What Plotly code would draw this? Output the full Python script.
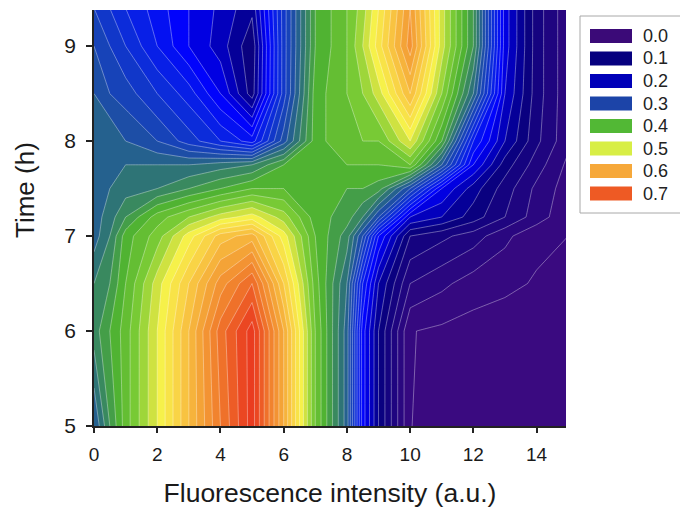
import plotly.graph_objects as go

intensity = [0, 0.5, 1, 2, 3, 4, 5, 6, 7, 8, 8.5, 9, 10, 11, 12, 13, 14, 15]
time_h = [5, 6, 6.5, 7, 7.2, 7.5, 7.75, 8, 8.5, 9, 9.4]
t500 = [.32,.38,.43,.50,.58,.66,.73,.60,.44,.33,.19,.12,.021,.005,0,0,0,0]
t600 = [.37,.40,.43,.50,.58,.67,.73,.60,.44,.33,.19,.12,.021,.016,.012,.008,.004,0]
t650 = [.36,.38,.42,.49,.56,.63,.68,.56,.43,.34,.22,.14,.06,.045,.03,.025,.018,.01]
t700 = [.33,.36,.41,.45,.51,.57,.59,.51,.42,.37,.30,.20,.10,.085,.07,.045,.025,.02]
t720 = [.33,.35,.38,.43,.46,.49,.51,.47,.41,.39,.36,.30,.16,.14,.11,.08,.05,.025]
t750 = [.34,.34,.35,.36,.38,.40,.42,.42,.42,.40,.40,.39,.30,.18,.13,.09,.055,.03]
t775 = [.34,.34,.34,.34,.34,.35,.36,.40,.42,.42,.42,.42,.44,.32,.18,.11,.07,.035]
t800 = [.34,.34,.32,.30,.27,.24,.21,.31,.41,.44,.44,.44,.50,.40,.22,.14,.085,.045]
t850 = [.32,.30,.29,.26,.23,.18,.11,.27,.41,.44,.46,.49,.58,.46,.34,.16,.09,.045]
t900 = [.30,.28,.26,.22,.18,.15,.105,.27,.40,.44,.48,.53,.63,.49,.38,.17,.09,.045]
t940 = [.28,.26,.24,.21,.18,.155,.125,.27,.40,.44,.47,.52,.62,.49,.38,.17,.09,.045]
z_rows = [t500, t600, t650, t700, t720, t750, t775, t800, t850, t900, t940]

legend_labels = ["0.0", "0.1", "0.2", "0.3", "0.4", "0.5", "0.6", "0.7"]
legend_colors = ["#3b0a78", "#06007f", "#0000b8", "#1c44a8",
                 "#52b835", "#d8ee45", "#f6a83a", "#ee5a24"]

ZMAX = 0.72
stops = [(0, "#3a0a80"), (.1, "#060080"), (.17, "#0000ff"), (.23, "#0a28e0"),
         (.3, "#1d4fa5"), (.34, "#2e7575"), (.4, "#4fb232"), (.45, "#7fce35"),
         (.48, "#c8e040"), (.505, "#f8f24a"), (.55, "#f9d045"), (.6, "#f5a838"),
         (.66, "#f07a2c"), (.72, "#ea3c20")]
colorscale = [[v / ZMAX, c] for v, c in stops]

fig = go.Figure(go.Contour(
    x=intensity, y=time_h, z=z_rows,
    zmin=0, zmax=ZMAX, colorscale=colorscale, showscale=False,
    autocontour=False,
    contours=dict(start=0.02, end=0.72, size=0.02, coloring="fill", showlines=True),
    line=dict(color="rgba(255,255,255,0.45)", width=0.8, smoothing=0),
    hoverinfo="skip",
))

W, H = 680, 508
L, R, T, B = 94, 566, 10, 426
font = "Liberation Sans, Arial, sans-serif"

def px(v):
    return (v - L) / (R - L)

def py(v):
    return (B - v) / (B - T)

shapes = [dict(type="rect", xref="paper", yref="paper",
               x0=px(580), x1=px(700), y0=py(16), y1=py(213),
               line=dict(color="#a8a8a8", width=1), fillcolor="white")]
annotations = [dict(xref="paper", yref="paper", x=px(25), y=py(190),
                    text="Time (h)", textangle=-90, showarrow=False,
                    xanchor="center", yanchor="middle",
                    font=dict(family=font, size=26, color="#1a1a1a"))]
for i, (lab, col) in enumerate(zip(legend_labels, legend_colors)):
    yc = 36 + i * 22.5
    shapes.append(dict(type="rect", xref="paper", yref="paper",
                       x0=px(590), x1=px(632), y0=py(yc - 7), y1=py(yc + 7),
                       line=dict(width=0), fillcolor=col))
    annotations.append(dict(xref="paper", yref="paper", x=px(641), y=py(yc),
                            text=lab, showarrow=False, xanchor="left", yanchor="middle",
                            font=dict(family=font, size=18, color="#222222")))

fig.update_layout(
    width=W, height=H,
    margin=dict(l=L, r=W - R, t=T, b=H - B, autoexpand=False),
    paper_bgcolor="white", plot_bgcolor="white",
    font=dict(family=font, color="#1a1a1a"),
    shapes=shapes, annotations=annotations,
    xaxis=dict(range=[0, 14.93], tickvals=[0, 2, 4, 6, 8, 10, 12, 14],
               ticks="outside", ticklen=5, tickwidth=1.5, tickcolor="#222222",
               showline=True, linecolor="#222222", linewidth=1.5, showgrid=False, zeroline=False,
               tickfont=dict(size=19, family=font), ticklabelstandoff=5,
               title=dict(text="Fluorescence intensity (a.u.)", font=dict(size=26.5, family=font), standoff=20)),
    yaxis=dict(range=[5, 9.38], tickvals=[5, 6, 7, 8, 9],
               ticks="outside", ticklen=6, tickwidth=1.5, tickcolor="#222222",
               showline=True, linecolor="#222222", linewidth=1.5, showgrid=False, zeroline=False,
               tickfont=dict(size=21, family=font), ticklabelstandoff=6),
)

fig.write_html("out.html", config={"displayModeBar": False},
               post_script="document.body.style.margin='0';document.documentElement.style.overflow='hidden';")
